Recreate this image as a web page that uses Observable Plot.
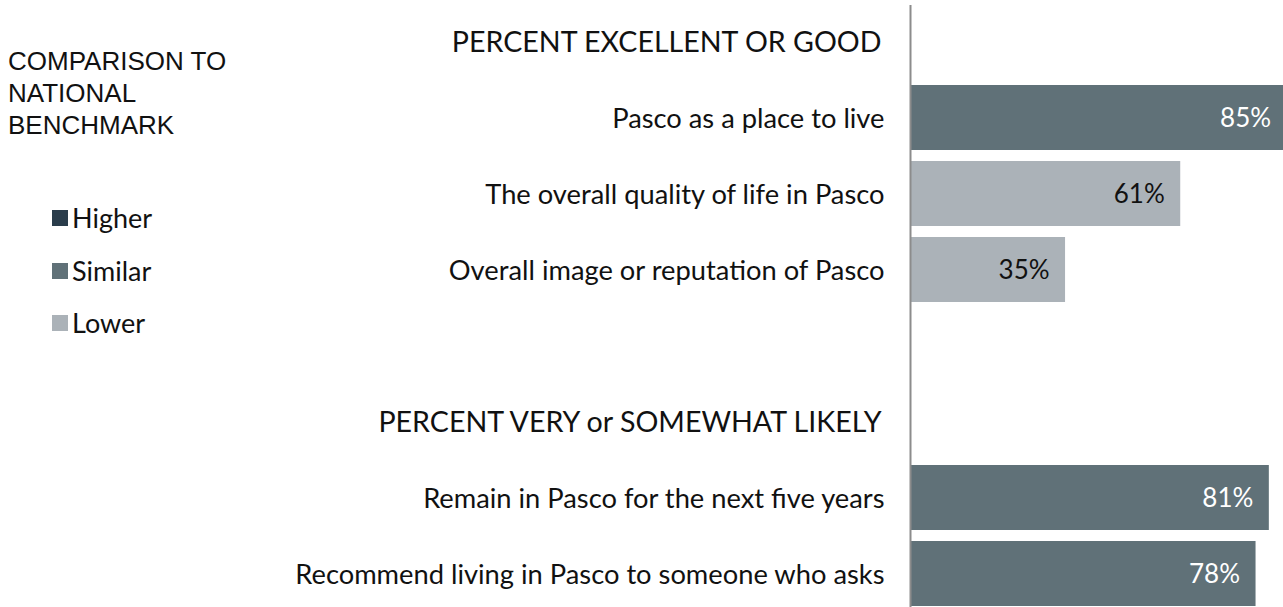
<!DOCTYPE html>
<html>
<head>
<meta charset="utf-8">
<script src="https://cdn.jsdelivr.net/npm/d3@7"></script>
<script src="https://cdn.jsdelivr.net/npm/@observablehq/plot@0.6"></script>
<style>
  html, body { margin: 0; padding: 0; background: white; overflow: hidden; }
  #wrap { position: relative; width: 1283px; height: 607px; }
  #legend { position: absolute; left: 0; top: 0; width: 300px; height: 400px; }
  .ltitle { position: absolute; left: 8px; font-family: "Liberation Sans", Arial, sans-serif; font-size: 26px; line-height: 32px; color: #111; white-space: nowrap; }
  .lsw { position: absolute; left: 52px; width: 16px; height: 16px; }
  .ltxt { position: absolute; left: 72px; font-family: Lato, sans-serif; font-size: 27px; line-height: 30px; color: #111; white-space: nowrap; }
</style>
</head>
<body>
<div id="wrap"><div id="legend"></div></div>
<script>
// ---- data ----
const headers = ["PERCENT EXCELLENT OR GOOD", "PERCENT VERY or SOMEWHAT LIKELY"];
const group1Categories = [
  "Pasco as a place to live",
  "The overall quality of life in Pasco",
  "Overall image or reputation of Pasco"
];
const group1Values = [85, 61, 35];
const group1Comparison = ["Similar", "Lower", "Lower"];
const group2Categories = [
  "Remain in Pasco for the next five years",
  "Recommend living in Pasco to someone who asks"
];
const group2Values = [81, 78];
const group2Comparison = ["Similar", "Similar"];
const legendTitleLines = ["COMPARISON TO", "NATIONAL", "BENCHMARK"];
const comparisonLevels = ["Higher", "Similar", "Lower"];
const comparisonColors = ["#2a3d4b", "#607178", "#abb2b8"];

// ---- build table ----
const data = [
  ...group1Categories.map((c, i) => ({category: c, value: group1Values[i], comparison: group1Comparison[i]})),
  ...group2Categories.map((c, i) => ({category: c, value: group2Values[i], comparison: group2Comparison[i]}))
];
const rows = [headers[0], ...group1Categories, "", headers[1], ...group2Categories];
const itemRows = [...group1Categories, ...group2Categories];

const chart = Plot.plot({
  width: 1283,
  height: 607,
  marginTop: 5,
  marginBottom: 0,
  marginLeft: 0,
  marginRight: 0,
  style: {fontFamily: "Lato, sans-serif", background: "transparent", overflow: "hidden"},
  x: {domain: [0, 100], range: [910, 1353], axis: null},
  y: {type: "band", domain: rows, range: [2, 614], paddingInner: 0.14, paddingOuter: 0.07, axis: null},
  color: {domain: comparisonLevels, range: comparisonColors},
  marks: [
    Plot.barX(data, {x: "value", y: "category", fill: "comparison"}),
    Plot.ruleX([0], {stroke: "#8c8c8c", strokeWidth: 2}),
    Plot.text(data.filter(d => d.comparison !== "Lower"), {
      x: "value", y: "category", text: d => d.value + "%",
      textAnchor: "end", dx: -16, dy: 1, fill: "white", fontSize: 26
    }),
    Plot.text(data.filter(d => d.comparison === "Lower"), {
      x: "value", y: "category", text: d => d.value + "%",
      textAnchor: "end", dx: -16, dy: 1, fill: "#111", fontSize: 26
    }),
    Plot.text(itemRows, {
      x: () => 0, y: d => d, text: d => d,
      textAnchor: "end", dx: -26, dy: 1, fill: "#111", fontSize: 27.3
    }),
    Plot.text(headers, {
      x: () => 0, y: d => d, text: d => d,
      textAnchor: "end", dx: -29, dy: 1, fill: "#111", fontSize: 28.6
    })
  ]
});
document.getElementById("wrap").prepend(chart);

// ---- legend ----
const legend = document.getElementById("legend");
legendTitleLines.forEach((t, i) => {
  const d = document.createElement("div");
  d.className = "ltitle";
  d.style.top = (45 + i * 32) + "px";
  d.textContent = t;
  legend.appendChild(d);
});
comparisonLevels.forEach((lvl, i) => {
  const baseline = 228 + i * 52.6;
  const sw = document.createElement("div");
  sw.className = "lsw";
  sw.style.top = (baseline - 18) + "px";
  sw.style.background = comparisonColors[i];
  legend.appendChild(sw);
  const tx = document.createElement("div");
  tx.className = "ltxt";
  tx.style.top = (baseline - 25) + "px";
  tx.textContent = lvl;
  legend.appendChild(tx);
});
</script>
</body>
</html>
